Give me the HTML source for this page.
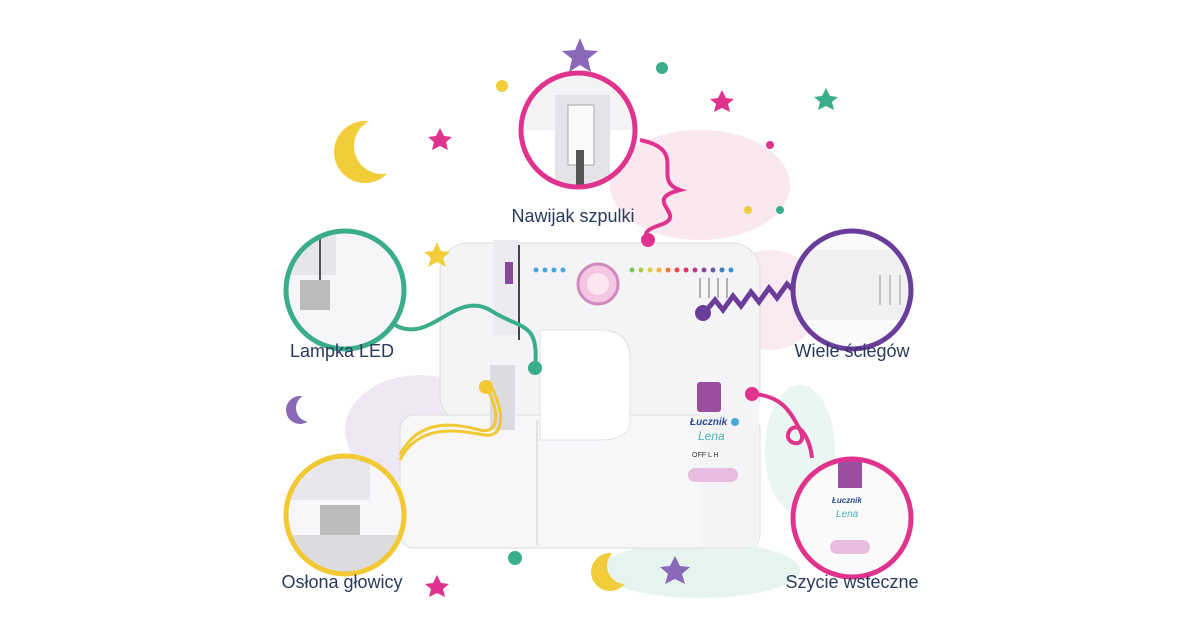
<!DOCTYPE html>
<html><head><meta charset="utf-8"><style>
html,body{margin:0;padding:0;background:#fff;width:1200px;height:630px;overflow:hidden}
svg{display:block}
text{font-family:"Liberation Sans","DejaVu Sans",sans-serif;fill:#2b3a5c;font-size:18px}
</style></head><body>
<svg width="1200" height="630" viewBox="0 0 1200 630">
<defs>
<clipPath id="c1"><circle cx="578" cy="130" r="57"/></clipPath>
<clipPath id="c2"><circle cx="345" cy="290" r="59"/></clipPath>
<clipPath id="c3"><circle cx="852" cy="290" r="59"/></clipPath>
<clipPath id="c4"><circle cx="345" cy="515" r="59"/></clipPath>
<clipPath id="c5"><circle cx="852" cy="518" r="59"/></clipPath>
<mask id="m1"><rect width="1200" height="630" fill="#fff"/><circle cx="382" cy="146" r="28" fill="#000"/><circle cx="625" cy="566" r="18" fill="#000"/><circle cx="310" cy="408" r="14" fill="#000"/></mask>
</defs>
<!-- watercolor blobs -->
<ellipse cx="700" cy="185" rx="90" ry="55" fill="#f8e2ec" opacity=".8"/>
<ellipse cx="770" cy="300" rx="50" ry="50" fill="#f6e0ea" opacity=".7"/>
<ellipse cx="420" cy="430" rx="75" ry="55" fill="#ece5f3" opacity=".9"/>
<ellipse cx="700" cy="570" rx="100" ry="28" fill="#e2f3ed" opacity=".9"/>
<ellipse cx="800" cy="450" rx="35" ry="65" fill="#e4f4ee" opacity=".8"/>
<!-- machine -->
<rect x="440" y="243" width="320" height="180" rx="28" fill="#f4f4f6" stroke="#ddd"/>
<rect x="400" y="415" width="360" height="133" rx="14" fill="#f7f7f9" stroke="#ddd"/>
<rect x="700" y="300" width="59" height="247" fill="#f4f4f6"/>
<path d="M540 330 H600 Q630 330 630 360 V420 Q630 440 600 440 H540 Z" fill="#fff" stroke="#e2e2e6"/>
<line x1="537" y1="420" x2="537" y2="545" stroke="#ccc"/>
<rect x="494" y="240" width="25" height="95" fill="#ececf0"/>
<rect x="505" y="262" width="8" height="22" fill="#8a4a9a"/>
<line x1="519" y1="245" x2="519" y2="340" stroke="#444" stroke-width="2"/>
<rect x="490" y="365" width="25" height="65" fill="#dcdce0"/>
<circle cx="598" cy="284" r="20" fill="#f3c6e3" stroke="#d08ac0" stroke-width="3"/>
<circle cx="598" cy="284" r="11" fill="#fbe6f2"/>
<g fill="#4aa7d8"><circle cx="536" cy="270" r="2.5"/><circle cx="545" cy="270" r="2.5"/><circle cx="554" cy="270" r="2.5"/><circle cx="563" cy="270" r="2.5"/></g>
<g>
<circle cx="632" cy="270" r="2.5" fill="#7bc46a"/><circle cx="641" cy="270" r="2.5" fill="#a8cc4a"/><circle cx="650" cy="270" r="2.5" fill="#d8d040"/><circle cx="659" cy="270" r="2.5" fill="#f2b53a"/><circle cx="668" cy="270" r="2.5" fill="#ee7a3a"/><circle cx="677" cy="270" r="2.5" fill="#e84a4a"/><circle cx="686" cy="270" r="2.5" fill="#d8386a"/><circle cx="695" cy="270" r="2.5" fill="#b8408a"/><circle cx="704" cy="270" r="2.5" fill="#8a4a9a"/><circle cx="713" cy="270" r="2.5" fill="#6a5aaa"/><circle cx="722" cy="270" r="2.5" fill="#4a7ac0"/><circle cx="731" cy="270" r="2.5" fill="#3a90d0"/>
</g>
<g stroke="#999" stroke-width="1.5"><line x1="700" y1="278" x2="700" y2="298"/><line x1="709" y1="278" x2="709" y2="298"/><line x1="718" y1="278" x2="718" y2="298"/><line x1="727" y1="278" x2="727" y2="298"/></g>
<rect x="697" y="382" width="24" height="30" rx="3" fill="#9a4f9e"/>
<rect x="688" y="468" width="50" height="14" rx="7" fill="#e9bde0"/>
<text x="690" y="425" style="font-size:10px;font-style:italic;font-weight:bold;fill:#2b4a8c">Łucznik</text>
<circle cx="735" cy="422" r="4" fill="#4aa7d8"/>
<text x="698" y="440" style="font-size:12px;font-style:italic;fill:#4ab0b8">Lena</text>
<text x="692" y="457" style="font-size:7px;fill:#333">OFF  L   H</text>
<!-- connectors -->
<path d="M640 140 C690 150 650 180 680 190 C640 200 690 215 660 225 C630 235 660 240 648 240" fill="none" stroke="#e0338e" stroke-width="4"/>
<circle cx="648" cy="240" r="7" fill="#e0338e"/>
<path d="M395 325 C430 345 455 290 490 310 C520 330 540 320 535 368" fill="none" stroke="#3aae8a" stroke-width="4"/>
<circle cx="535" cy="368" r="7" fill="#3aae8a"/>
<path d="M705 312 l10 -12 l8 10 l10 -14 l8 10 l10 -14 l8 10 l10 -14 l8 10 l10 -14 l8 8" fill="none" stroke="#6a3d9a" stroke-width="5"/>
<circle cx="703" cy="313" r="8" fill="#6a3d9a"/>
<path d="M400 455 C420 415 460 425 480 430 C500 435 500 410 485 385" fill="none" stroke="#f2c833" stroke-width="3"/>
<path d="M400 460 C420 420 465 432 485 435 C505 438 505 410 490 385" fill="none" stroke="#f2c833" stroke-width="3"/>
<circle cx="486" cy="387" r="7" fill="#f2c833"/>
<path d="M752 394 C780 395 790 410 800 430 C810 450 780 445 790 430 C800 420 810 440 812 458" fill="none" stroke="#e0338e" stroke-width="4"/>
<circle cx="752" cy="394" r="7" fill="#e0338e"/>
<!-- circles -->
<g fill="#fff">
<circle cx="578" cy="130" r="57"/><circle cx="345" cy="290" r="59"/><circle cx="852" cy="290" r="59"/><circle cx="345" cy="515" r="59"/><circle cx="852" cy="518" r="59"/>
</g>
<g clip-path="url(#c1)"><rect x="520" y="70" width="120" height="60" fill="#f3f3f5"/><rect x="555" y="95" width="55" height="100" fill="#e4e4e8"/><rect x="568" y="105" width="26" height="60" fill="#fafafa" stroke="#aaa"/><rect x="576" y="150" width="8" height="40" fill="#555"/></g>
<g clip-path="url(#c2)"><rect x="280" y="225" width="130" height="130" fill="#f6f6f8"/><rect x="286" y="225" width="50" height="50" fill="#e6e6ea"/><rect x="300" y="280" width="30" height="30" fill="#bbb"/><line x1="320" y1="230" x2="320" y2="280" stroke="#555" stroke-width="2"/></g>
<g clip-path="url(#c3)"><rect x="790" y="230" width="130" height="130" fill="#fafafa"/><rect x="795" y="250" width="120" height="70" fill="#f0f0f2"/><g stroke="#999"><line x1="880" y1="275" x2="880" y2="305"/><line x1="890" y1="275" x2="890" y2="305"/><line x1="900" y1="275" x2="900" y2="305"/></g></g>
<g clip-path="url(#c4)"><rect x="280" y="450" width="130" height="130" fill="#f7f7f9"/><rect x="290" y="455" width="80" height="45" fill="#e8e8ec"/><rect x="320" y="505" width="40" height="30" fill="#bbb"/><rect x="290" y="535" width="120" height="40" fill="#dcdce0"/></g>
<g clip-path="url(#c5)"><rect x="790" y="455" width="130" height="130" fill="#fafafa"/><rect x="838" y="460" width="24" height="28" fill="#9a4f9e"/><rect x="830" y="540" width="40" height="14" rx="7" fill="#e9bde0"/><text x="832" y="503" style="font-size:8px;font-weight:bold;font-style:italic;fill:#2b4a8c">Łucznik</text><text x="836" y="517" style="font-size:10px;font-style:italic;fill:#4ab0b8">Lena</text></g>
<g fill="none" stroke-width="5">
<circle cx="578" cy="130" r="57" stroke="#e0338e"/>
<circle cx="345" cy="290" r="59" stroke="#3aae8a"/>
<circle cx="852" cy="290" r="59" stroke="#6a3d9a"/>
<circle cx="345" cy="515" r="59" stroke="#f2c833"/>
<circle cx="852" cy="518" r="59" stroke="#e0338e"/>
</g>
<!-- decorations -->
<g mask="url(#m1)">
<circle cx="365" cy="152" r="31" fill="#f2cd3a"/>
<circle cx="610" cy="572" r="19" fill="#f2cd3a"/>
<circle cx="300" cy="410" r="14" fill="#8a6ab8"/>
</g>
<polygon points="580,38 585,50 598,51 588,59 591,72 580,65 569,72 572,59 562,51 575,50" fill="#8a6ab8"/>
<polygon points="440,128 444,136 452,137 446,142 448,150 440,146 432,150 434,142 428,137 436,136" fill="#e0338e"/>
<polygon points="722,90 726,98 734,99 728,104 730,112 722,108 714,112 716,104 710,99 718,98" fill="#e0338e"/>
<polygon points="826,88 830,96 838,97 832,102 834,110 826,106 818,110 820,102 814,97 822,96" fill="#3aae8a"/>
<polygon points="437,242 441,251 450,252 443,258 446,267 437,262 428,267 431,258 424,252 433,251" fill="#f2cd3a"/>
<polygon points="675,556 680,566 690,567 682,574 685,584 675,579 665,584 668,574 660,567 670,566" fill="#8a6ab8"/>
<polygon points="437,575 441,583 449,584 443,589 445,597 437,593 429,597 431,589 425,584 433,583" fill="#e0338e"/>
<circle cx="502" cy="86" r="6" fill="#f2cd3a"/><circle cx="662" cy="68" r="6" fill="#3aae8a"/>
<circle cx="515" cy="558" r="7" fill="#3aae8a"/><circle cx="780" cy="210" r="4" fill="#3aae8a"/>
<circle cx="770" cy="145" r="4" fill="#e0338e"/><circle cx="748" cy="210" r="4" fill="#f2cd3a"/>
<!-- labels -->
<text x="573" y="222" text-anchor="middle">Nawijak szpulki</text>
<text x="342" y="357" text-anchor="middle">Lampka LED</text>
<text x="852" y="357" text-anchor="middle">Wiele ściegów</text>
<text x="342" y="588" text-anchor="middle">Osłona głowicy</text>
<text x="852" y="588" text-anchor="middle">Szycie wsteczne</text>
</svg>
</body></html>
